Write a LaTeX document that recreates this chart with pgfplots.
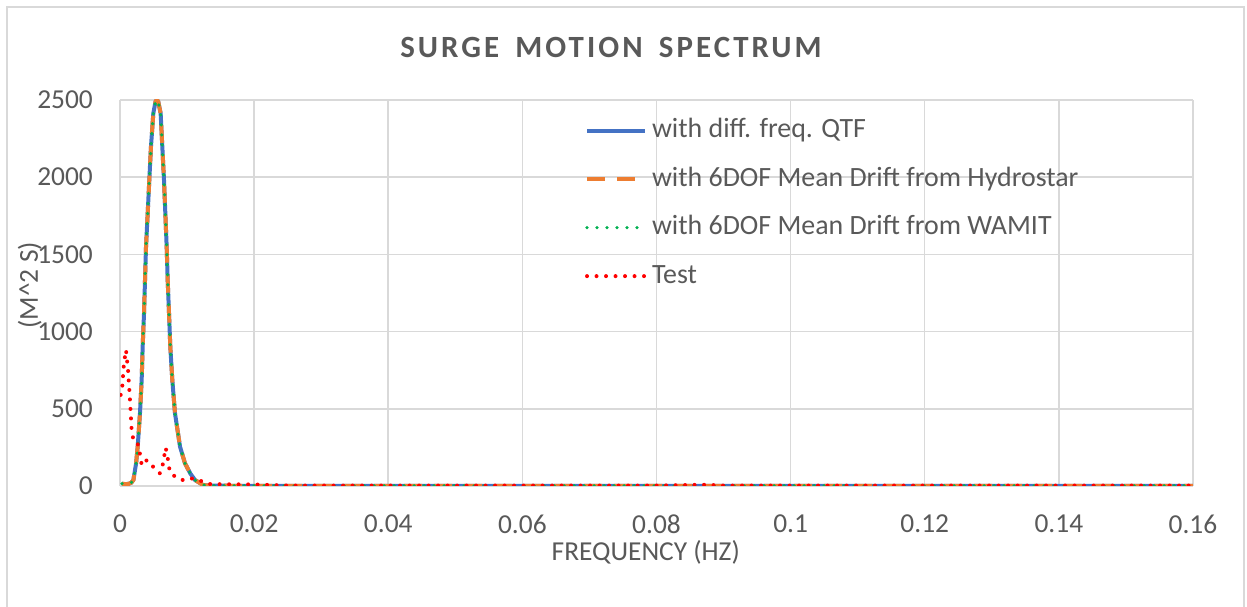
\documentclass[border=0pt]{standalone}
\usepackage{fontspec}
\setmainfont{Carlito}
\newfontfamily\titlefont[LetterSpace=10]{Carlito}
\usepackage{pgfplots}
\usepackage{pgfplotstable}
\pgfplotsset{compat=1.18}
\definecolor{txt}{HTML}{595959}
\definecolor{grd}{HTML}{D9D9D9}
\definecolor{sblue}{HTML}{4472C4}
\definecolor{sorange}{HTML}{ED7D31}
\definecolor{sgreen}{HTML}{00B050}
\definecolor{sred}{HTML}{FF0000}
\pgfplotstableread{
f qtf hydro wamit
0.0003 15 15 15
0.0008 12 12 12
0.0013 14 14 14
0.0017 22 22 22
0.0020 39 39 39
0.0024 147 147 147
0.00264 255 255 255
0.00298 471 471 471
0.00323 687 687 687
0.00338 902 902 902
0.00358 1118 1118 1118
0.00373 1334 1334 1334
0.00388 1550 1550 1550
0.00413 1766 1766 1766
0.00437 1982 1982 1982
0.00462 2198 2198 2198
0.00497 2414 2414 2414
0.0053 2490 2490 2490
0.0055 2500 2500 2500
0.0057 2490 2490 2490
0.00606 2414 2414 2414
0.00631 2198 2198 2198
0.00656 1982 1982 1982
0.00676 1766 1766 1766
0.00696 1550 1550 1550
0.00711 1334 1334 1334
0.00731 1118 1118 1118
0.0075 902 902 902
0.0078 687 687 687
0.0082 471 471 471
0.00895 255 255 255
0.00969 147 147 147
0.0105 80 80 80
0.01118 39 39 39
0.0124 6 6 6
0.0135 2 2 2
0.02 1 1 1
0.04 1 1 1
0.06 1 1 1
0.08 1 1 1
0.10 1 1 1
0.12 1 1 1
0.14 1 1 1
0.16 1 1 1
}\simdata
\pgfplotstableread{
f test
0.0001 590
0.0003 620
0.0006 800
0.0009 881
0.0012 750
0.0015 550
0.00174 356
0.0020 300
0.0024 295
0.0028 255
0.0030 200
0.00323 136
0.0036 165
0.0042 165
0.00472 136
0.00522 110
0.00595 82
0.00636 136
0.0066 194
0.0068 248
0.0071 194
0.0072 136
0.00756 82
0.00845 54
0.00935 39
0.01044 50
0.0112 45
0.0124 28
0.0135 12
0.02 10
0.025 3
0.05 3
0.08 3
0.087 8
0.09 3
0.12 3
0.16 3
}\testdata
\begin{document}
\begin{tikzpicture}
\useasboundingbox (0,0) rectangle (1247bp,607bp);
\draw[grd, line width=1.5bp] (7bp,-5bp) -- (7bp,600bp) -- (1244bp,600bp) -- (1244bp,-5bp);
\node[text=txt, font=\titlefont\bfseries\fontsize{31}{36}\selectfont] at (611bp,560bp) {SURGE\hspace{6bp} MOTION\hspace{6bp} SPECTRUM};
\begin{axis}[
 at={(120bp,121bp)}, anchor=south west,
 scale only axis, width=1073bp, height=386bp,
 xmin=0, xmax=0.16, ymin=0, ymax=2500,
 xtick={0,0.02,0.04,0.06,0.08,0.1,0.12,0.14,0.16},
 xticklabels={0,0.02,0.04,0.06,0.08,0.1,0.12,0.14,0.16},
 ytick={0,500,1000,1500,2000,2500},
 yticklabels={0,500,1000,1500,2000,2500},
 grid=major, major grid style={grd, line width=1.5bp},
 axis line style={draw=none}, major tick length=0pt,
 tick label style={font=\fontsize{27.5}{33}\selectfont, text=txt, inner sep=0pt},
 xticklabel style={yshift=-29bp},
 yticklabel style={xshift=-27bp},
 xlabel={FREQUENCY (HZ)}, ylabel={(M\textasciicircum 2 S)},
 label style={font=\fontsize{27.5}{33}\selectfont, text=txt},
 xlabel style={at={(rel axis cs:0.49,-0.171)}, anchor=center},
 ylabel style={at={(rel axis cs:-0.084,0.52)}, anchor=center},
 legend style={draw=none, fill=none, at={(rel axis cs:0.4304,0.96)}, anchor=north west,
   font=\fontsize{28}{33}\selectfont, text=txt, row sep=22.5bp, column sep=5bp,
   nodes={inner sep=0pt, text height=20bp, text depth=6bp}},
 legend cell align=left,
 legend image code/.code={\draw[#1] (0bp,0bp) -- (58bp,0bp);},
]
\addplot[sblue, line width=4bp, no markers] table[x=f, y=qtf] {\simdata};
\addlegendentry{with diff. freq. QTF}
\addplot[sorange, line width=4bp, no markers, dash pattern=on 18bp off 12bp] table[x=f, y=hydro] {\simdata};
\addlegendentry{with 6DOF Mean Drift from Hydrostar}
\addplot[sgreen, line width=3.6bp, no markers, line cap=round, dash pattern=on 0bp off 10bp] table[x=f, y=wamit] {\simdata};
\addlegendentry{with 6DOF Mean Drift from WAMIT}
\addplot[sred, line width=4bp, no markers, line cap=round, dash pattern=on 0bp off 9.5bp] table[x=f, y=test] {\testdata};
\addlegendentry{Test}
\end{axis}
\end{tikzpicture}
\end{document}
